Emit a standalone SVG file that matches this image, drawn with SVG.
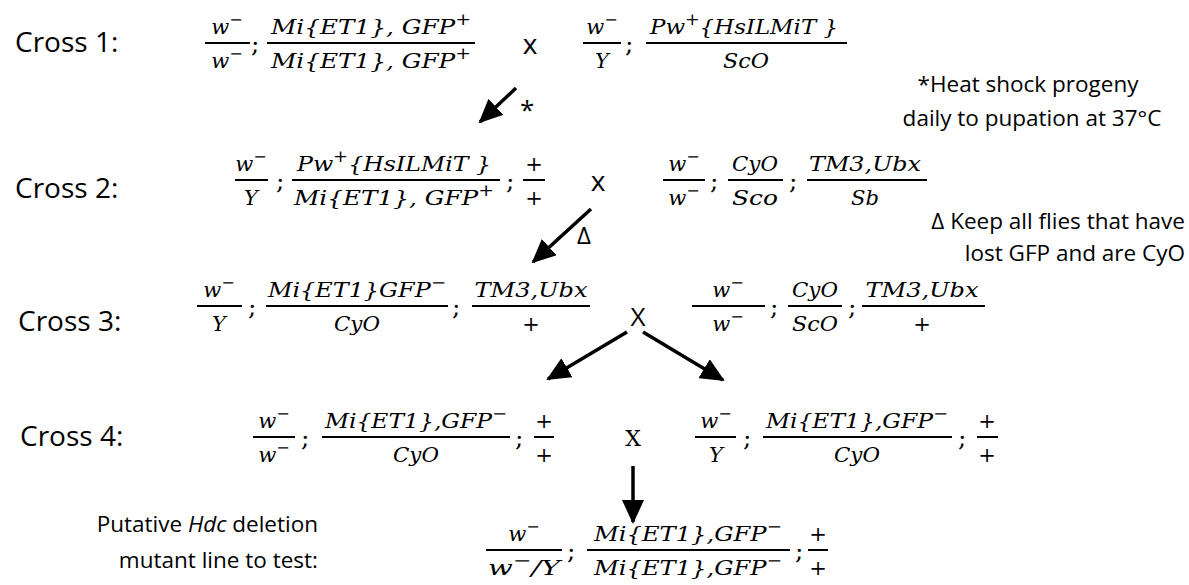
<svg xmlns="http://www.w3.org/2000/svg" width="1189" height="585" viewBox="0 0 1189 585">
<style>
.lbl{font-family:"Open Sans","Noto Sans",sans-serif;font-size:28px;fill:#000}
.note{font-family:"Open Sans","Noto Sans",sans-serif;font-size:22.5px;fill:#000}
.m{font-family:"DejaVu Serif",serif;font-style:italic;font-size:21px;text-anchor:middle;fill:#000}
.s{font-size:16px}
.semi{font-family:"DejaVu Serif",serif;font-size:25px;fill:#000}
.bar{stroke:#000;stroke-width:2}
.cx{font-family:"Open Sans","Noto Sans",sans-serif;font-size:28px;text-anchor:middle;fill:#000}
.cxs{font-family:"DejaVu Serif",serif;font-size:22px;text-anchor:middle;fill:#000}
.arr{stroke:#000;stroke-width:3.5;fill:none;marker-end:url(#ah)}
</style>
<defs>
<marker id="ah" markerWidth="24" markerHeight="22" refX="22" refY="11" orient="auto" markerUnits="userSpaceOnUse"><path d="M0,0 L24,11 L0,22 Z" fill="#000"/></marker>
</defs>
<rect width="1189" height="585" fill="#fff"/>

<!-- Cross 1 -->
<g id="cross1-label"><text class="lbl" x="15" y="52">Cross 1:</text></g>
<g id="cross1-female">
<line class="bar" x1="205" y1="43" x2="250" y2="43"/>
<text class="m" x="227" y="34">w<tspan class="s" dy="-9">−</tspan></text>
<text class="m" x="227" y="68">w<tspan class="s" dy="-9">−</tspan></text>
<text class="semi" x="251" y="52">;</text>
<line class="bar" x1="267" y1="43" x2="475" y2="43"/>
<text class="m" x="371" y="34" textLength="200" lengthAdjust="spacingAndGlyphs">Mi{ET1}, GFP<tspan class="s" dy="-9">+</tspan></text>
<text class="m" x="371" y="68" textLength="200" lengthAdjust="spacingAndGlyphs">Mi{ET1}, GFP<tspan class="s" dy="-9">+</tspan></text>
</g>
<g id="cross1-x"><text class="cx" x="530" y="54">x</text></g>
<g id="cross1-male">
<line class="bar" x1="583" y1="43" x2="621" y2="43"/>
<text class="m" x="602" y="34">w<tspan class="s" dy="-9">−</tspan></text>
<text class="m" x="602" y="68">Y</text>
<text class="semi" x="625" y="52">;</text>
<line class="bar" x1="646" y1="43" x2="847" y2="43"/>
<text class="m" x="744" y="34" textLength="188" lengthAdjust="spacingAndGlyphs">Pw<tspan class="s" dy="-9">+</tspan><tspan dy="9">{HsILMiT }</tspan></text>
<text class="m" x="746" y="68" textLength="46" lengthAdjust="spacingAndGlyphs">ScO</text>
</g>
<g id="note-heat">
<text class="note" x="1028" y="92" text-anchor="middle">*Heat shock progeny</text>
<text class="note" x="1032" y="126" text-anchor="middle">daily to pupation at 37°C</text>
</g>

<!-- Cross 2 -->
<g id="cross2-label"><text class="lbl" x="15" y="198">Cross 2:</text></g>
<g id="cross2-male">
<line class="bar" x1="235" y1="180" x2="268" y2="180"/>
<text class="m" x="251" y="171">w<tspan class="s" dy="-9">−</tspan></text>
<text class="m" x="251" y="205">Y</text>
<text class="semi" x="276" y="189">;</text>
<line class="bar" x1="292" y1="180" x2="500" y2="180"/>
<text class="m" x="394" y="171" textLength="194" lengthAdjust="spacingAndGlyphs">Pw<tspan class="s" dy="-9">+</tspan><tspan dy="9">{HsILMiT }</tspan></text>
<text class="m" x="394" y="205" textLength="200" lengthAdjust="spacingAndGlyphs">Mi{ET1}, GFP<tspan class="s" dy="-9">+</tspan></text>
<text class="semi" x="506" y="189">;</text>
<line class="bar" x1="523" y1="180" x2="545" y2="180"/>
<text class="m" x="534" y="171">+</text>
<text class="m" x="534" y="205">+</text>
</g>
<g id="cross2-x"><text class="cx" x="598" y="191">x</text></g>
<g id="cross2-female">
<line class="bar" x1="663" y1="180" x2="705" y2="180"/>
<text class="m" x="684" y="171">w<tspan class="s" dy="-9">−</tspan></text>
<text class="m" x="684" y="205">w<tspan class="s" dy="-9">−</tspan></text>
<text class="semi" x="710" y="189">;</text>
<line class="bar" x1="728" y1="180" x2="783" y2="180"/>
<text class="m" x="755" y="171" textLength="46" lengthAdjust="spacingAndGlyphs">CyO</text>
<text class="m" x="755" y="205" textLength="46" lengthAdjust="spacingAndGlyphs">Sco</text>
<text class="semi" x="789" y="189">;</text>
<line class="bar" x1="807" y1="180" x2="927" y2="180"/>
<text class="m" x="865" y="171" textLength="112" lengthAdjust="spacingAndGlyphs">TM3,Ubx</text>
<text class="m" x="865" y="205" textLength="28" lengthAdjust="spacingAndGlyphs">Sb</text>
</g>
<g id="note-delta">
<text class="note" x="1185" y="229" text-anchor="end">Δ Keep all flies that have</text>
<text class="note" x="1185" y="261" text-anchor="end">lost GFP and are CyO</text>
</g>

<!-- Cross 3 -->
<g id="cross3-label"><text class="lbl" x="18" y="331">Cross 3:</text></g>
<g id="cross3-male">
<line class="bar" x1="197" y1="306" x2="242" y2="306"/>
<text class="m" x="219" y="297">w<tspan class="s" dy="-9">−</tspan></text>
<text class="m" x="219" y="331">Y</text>
<text class="semi" x="248" y="315">;</text>
<line class="bar" x1="266" y1="306" x2="448" y2="306"/>
<text class="m" x="357" y="297" textLength="178" lengthAdjust="spacingAndGlyphs">Mi{ET1}GFP<tspan class="s" dy="-9">−</tspan></text>
<text class="m" x="357" y="331" textLength="46" lengthAdjust="spacingAndGlyphs">CyO</text>
<text class="semi" x="452" y="315">;</text>
<line class="bar" x1="472" y1="306" x2="590" y2="306"/>
<text class="m" x="531" y="297" textLength="113" lengthAdjust="spacingAndGlyphs">TM3,Ubx</text>
<text class="m" x="531" y="331">+</text>
</g>
<g id="cross3-x"><text class="cx" x="638" y="326" style="font-size:26px">X</text></g>
<g id="cross3-female">
<line class="bar" x1="692" y1="306" x2="765" y2="306"/>
<text class="m" x="728" y="297">w<tspan class="s" dy="-9">−</tspan></text>
<text class="m" x="728" y="331">w<tspan class="s" dy="-9">−</tspan></text>
<text class="semi" x="770" y="315">;</text>
<line class="bar" x1="788" y1="306" x2="842" y2="306"/>
<text class="m" x="815" y="297" textLength="46" lengthAdjust="spacingAndGlyphs">CyO</text>
<text class="m" x="815" y="331" textLength="46" lengthAdjust="spacingAndGlyphs">ScO</text>
<text class="semi" x="848" y="315">;</text>
<line class="bar" x1="862" y1="306" x2="985" y2="306"/>
<text class="m" x="922" y="297" textLength="113" lengthAdjust="spacingAndGlyphs">TM3,Ubx</text>
<text class="m" x="922" y="331">+</text>
</g>

<!-- Cross 4 -->
<g id="cross4-label"><text class="lbl" x="20" y="446">Cross 4:</text></g>
<g id="cross4-female">
<line class="bar" x1="253" y1="437" x2="295" y2="437"/>
<text class="m" x="274" y="428">w<tspan class="s" dy="-9">−</tspan></text>
<text class="m" x="274" y="462">w<tspan class="s" dy="-9">−</tspan></text>
<text class="semi" x="301" y="446">;</text>
<line class="bar" x1="322" y1="437" x2="510" y2="437"/>
<text class="m" x="416" y="428" textLength="182" lengthAdjust="spacingAndGlyphs">Mi{ET1},GFP<tspan class="s" dy="-9">−</tspan></text>
<text class="m" x="416" y="462" textLength="46" lengthAdjust="spacingAndGlyphs">CyO</text>
<text class="semi" x="515" y="446">;</text>
<line class="bar" x1="534" y1="437" x2="554" y2="437"/>
<text class="m" x="544" y="428">+</text>
<text class="m" x="544" y="462">+</text>
</g>
<g id="cross4-x"><text class="cxs" x="633" y="446">X</text></g>
<g id="cross4-male">
<line class="bar" x1="695" y1="437" x2="736" y2="437"/>
<text class="m" x="716" y="428">w<tspan class="s" dy="-9">−</tspan></text>
<text class="m" x="716" y="462">Y</text>
<text class="semi" x="743" y="446">;</text>
<line class="bar" x1="763" y1="437" x2="952" y2="437"/>
<text class="m" x="857" y="428" textLength="182" lengthAdjust="spacingAndGlyphs">Mi{ET1},GFP<tspan class="s" dy="-9">−</tspan></text>
<text class="m" x="857" y="462" textLength="46" lengthAdjust="spacingAndGlyphs">CyO</text>
<text class="semi" x="958" y="446">;</text>
<line class="bar" x1="977" y1="437" x2="998" y2="437"/>
<text class="m" x="987" y="428">+</text>
<text class="m" x="987" y="462">+</text>
</g>

<!-- Result -->
<g id="result-label">
<text class="note" x="318" y="532" text-anchor="end">Putative <tspan font-style="italic">Hdc</tspan> deletion</text>
<text class="note" x="318" y="568" text-anchor="end">mutant line to test:</text>
</g>
<g id="result-line">
<line class="bar" x1="486" y1="550" x2="562" y2="550"/>
<text class="m" x="524" y="541">w<tspan class="s" dy="-9">−</tspan></text>
<text class="m" x="524" y="575" textLength="72" lengthAdjust="spacingAndGlyphs">w<tspan class="s" dy="-9">−</tspan><tspan dy="9">/Y</tspan></text>
<text class="semi" x="567" y="559">;</text>
<line class="bar" x1="587" y1="550" x2="790" y2="550"/>
<text class="m" x="688" y="541" textLength="188" lengthAdjust="spacingAndGlyphs">Mi{ET1},GFP<tspan class="s" dy="-9">−</tspan></text>
<text class="m" x="688" y="575" textLength="188" lengthAdjust="spacingAndGlyphs">Mi{ET1},GFP<tspan class="s" dy="-9">−</tspan></text>
<text class="semi" x="795" y="559">;</text>
<line class="bar" x1="808" y1="550" x2="828" y2="550"/>
<text class="m" x="818" y="541">+</text>
<text class="m" x="818" y="575">+</text>
</g>

<!-- Connectors -->
<g id="connectors">
<line class="arr" x1="516" y1="88" x2="480" y2="122"/>
<text class="note" x="520" y="119" style="font-size:26px">*</text>
<line class="arr" x1="591" y1="209" x2="533" y2="262"/>
<text class="note" x="577" y="244" style="font-size:24px">Δ</text>
<line class="arr" x1="627" y1="332" x2="548" y2="379"/>
<line class="arr" x1="643" y1="332" x2="723" y2="380"/>
<line class="arr" x1="633" y1="466" x2="633" y2="522"/>
</g>
</svg>
